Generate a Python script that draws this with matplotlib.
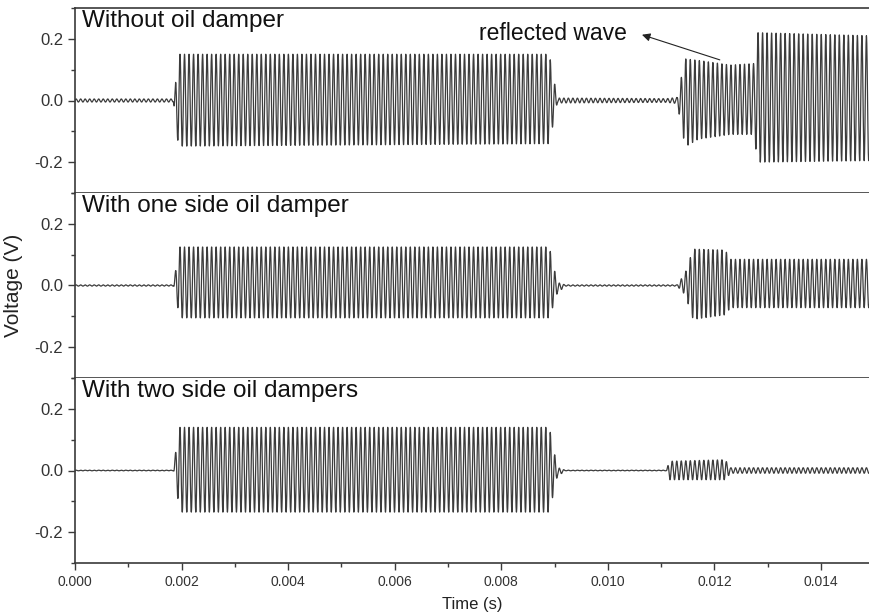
import matplotlib.pyplot as plt
import numpy as np
from matplotlib.ticker import MultipleLocator

plt.rcParams.update({
    "font.family": ["Liberation Sans", "DejaVu Sans"],
    "axes.linewidth": 1.2,
    "axes.edgecolor": "#3a3a3a",
    "xtick.color": "#3a3a3a",
    "ytick.color": "#3a3a3a",
    "xtick.labelcolor": "#333333",
    "ytick.labelcolor": "#333333",
})

# carrier of the tone bursts (Hz), counted from the stripes
carrier_hz = 11800.0
t_end = 0.0149

# envelope knots: time (s), upper and lower envelope (V)
labels = ["Without oil damper", "With one side oil damper", "With two side oil dampers"]

env1_t = [0.0, 0.00185, 0.00188, 0.00196, 0.0089, 0.00905, 0.0111, 0.0113, 0.01145, 0.0117, 0.0123, 0.01275, 0.0128, 0.0149]
env1_up = [0.005, 0.005, 0.05, 0.15, 0.15, 0.008, 0.006, 0.01, 0.135, 0.13, 0.115, 0.12, 0.22, 0.21]
env1_dn = [-0.005, -0.005, -0.10, -0.148, -0.14, -0.008, -0.006, -0.01, -0.15, -0.125, -0.11, -0.11, -0.2, -0.195]

env2_t = [0.0, 0.00185, 0.00188, 0.00196, 0.0089, 0.00905, 0.0092, 0.0113, 0.01145, 0.0116, 0.0122, 0.0123, 0.0149]
env2_up = [0.002, 0.002, 0.04, 0.125, 0.125, 0.01, 0.002, 0.002, 0.04, 0.118, 0.115, 0.085, 0.085]
env2_dn = [-0.002, -0.002, -0.02, -0.105, -0.105, -0.025, -0.002, -0.002, -0.03, -0.11, -0.095, -0.072, -0.072]

env3_t = [0.0, 0.00185, 0.00188, 0.00196, 0.0089, 0.00905, 0.0092, 0.0111, 0.01115, 0.0122, 0.0123, 0.0149]
env3_up = [0.001, 0.001, 0.05, 0.14, 0.14, 0.01, 0.001, 0.001, 0.03, 0.035, 0.009, 0.009]
env3_dn = [-0.001, -0.001, -0.02, -0.135, -0.135, -0.02, -0.001, -0.001, -0.03, -0.03, -0.009, -0.009]

envelopes = [(env1_t, env1_up, env1_dn), (env2_t, env2_up, env2_dn), (env3_t, env3_up, env3_dn)]

t = np.linspace(0.0, t_end, 40000)
carrier = np.sin(2 * np.pi * carrier_hz * t)

fig = plt.figure(figsize=(8.69, 6.14), dpi=100)
left, right = 75 / 869, 1.0
top, bottom = 1 - 8 / 614, 1 - 563 / 614
h = (top - bottom) / 3
axes = []
for i in range(3):
    ax = fig.add_axes([left, top - (i + 1) * h, right - left, h])
    axes.append(ax)

for i, (ax, (et, eu, ed)) in enumerate(zip(axes, envelopes)):
    up = np.interp(t, et, eu)
    dn = np.interp(t, et, ed)
    v = (up + dn) / 2 + (up - dn) / 2 * carrier
    ax.plot(t, v, color="#3c3c3c", lw=0.9)
    ax.set_xlim(0, t_end)
    ax.set_ylim(-0.3, 0.3)
    ax.yaxis.set_minor_locator(MultipleLocator(0.1))
    ax.xaxis.set_major_locator(MultipleLocator(0.002))
    ax.xaxis.set_minor_locator(MultipleLocator(0.001))
    ax.set_yticks([-0.2, 0.0, 0.2])
    ax.set_yticklabels(["-0.2", "0.0", "0.2"])
    ax.tick_params(which="major", direction="out", length=5, width=1)
    ax.tick_params(which="minor", direction="out", length=3, width=1)
    ax.tick_params(axis="y", labelsize=12)
    ax.tick_params(axis="x", labelsize=10)
    ax.spines["right"].set_visible(False)
    if i > 0:
        ax.spines["top"].set_visible(False)
    if i < 2:
        ax.tick_params(axis="x", labelbottom=False)
    ax.text(0.009, 0.99, labels[i], transform=ax.transAxes, ha="left", va="top",
            fontsize=17.5, color="#111111")

axes[2].set_xticklabels([f"{x:.3f}" for x in axes[2].get_xticks()])
axes[2].set_xlim(0, t_end)
axes[2].set_xlabel("Time (s)", fontsize=12, color="#222222", labelpad=6)
fig.text(0.005, top - 1.5 * h, "Voltage (V)", rotation=90, ha="left", va="center",
         fontsize=15, color="#222222")

axes[0].annotate("", xy=(0.01059, 0.216), xytext=(0.01215, 0.129),
                 arrowprops=dict(arrowstyle="-|>", color="#222222", lw=0.8,
                                 mutation_scale=12))
axes[0].text(0.01035, 0.216, "reflected wave", ha="right", va="center",
             fontsize=16.5, color="#111111")

fig.savefig("out.png", dpi=100)
